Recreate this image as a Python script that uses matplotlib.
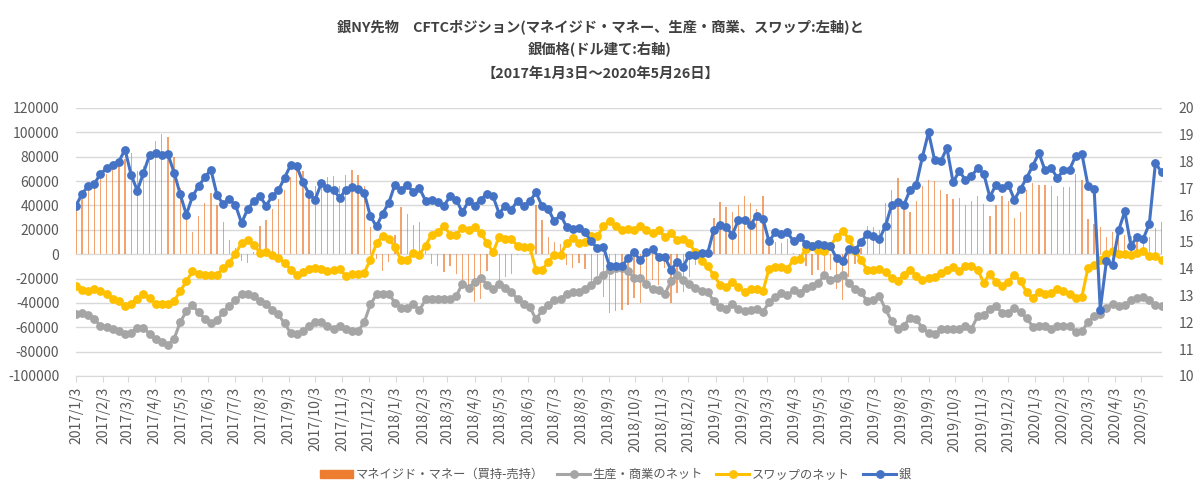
import matplotlib
matplotlib.use('Agg')
import matplotlib.pyplot as plt
import matplotlib.dates as mdates
from matplotlib.patches import Patch
from matplotlib.lines import Line2D
from matplotlib.ticker import FuncFormatter, MultipleLocator
import pandas as pd

plt.rcParams['font.family'] = ['Noto Sans CJK JP', 'DejaVu Sans']

# weekly CFTC report dates (Tuesdays)
dates = pd.date_range('2017-01-03', '2020-05-26', freq='7D')

# managed money net (long - short), contracts
managed_money = [
    40000, 45000, 52000, 56000, 62000, 66000, 71000, 75000, 78000, 83000,
    68000, 72000, 78000, 93000, 99000, 96000, 80000, 54000, 32000, 18000,
    31000, 42000, 50000, 40000, 26000, 12000, 5000, -6000, -7000, 2000,
    23500, 28000, 37000, 45000, 53000, 63000, 75000, 68000, 53000, 56000,
    61000, 63000, 64000, 56000, 65000, 69000, 65000, 56000, 22000, -4000,
    -14000, -6500, 16000, 39000, 33000, 24000, 26000, 3000, -7700, -10000,
    -15000, -10000, -16000, -28000, -30000, -39000, -37000, -14000, -2000, -21000,
    -19000, -16000, -1000, 500, 1000, 40000, 28000, 14000, 10000, 8000,
    -8500, -11000, -7000, -12000, -22000, -18000, -35000, -48000, -47000, -46000,
    -42000, -36000, -40000, -29000, -21000, -25000, -11000, -40000, -32000, -31000,
    -19000, -9000, 1000, 0, 30000, 43000, 39000, 35000, 40000, 48000,
    42000, 37000, 48000, 9000, 10000, 9000, 12500, 1000, -7000, -10000,
    -17500, -13000, -14000, -13000, -29000, -38000, -19000, -7700, 5000, 23500,
    22500, 19700, 42000, 52500, 62700, 44000, 34500, 44000, 56000, 61000,
    60000, 53000, 49000, 45000, 46000, 40000, 43500, 47600, 40800, 31700,
    40000, 48000, 44000, 30000, 35000, 53000, 58500, 57000, 57000, 56000,
    48000, 55000, 55000, 66000, 61000, 29000, 25000, 22500, 14000, 18000,
    20000, 16000, 15000, 12600, 12000, 14000, 21500, 26000,
]

# producer / merchant net
producer = [
    -49000, -48200, -50300, -53600, -58600, -59900, -61800, -63200, -65400, -64600,
    -60500, -60500, -65400, -70000, -72200, -74700, -69500, -55800, -46800, -42100,
    -47600, -53100, -56900, -54200, -47600, -42700, -38000, -33100, -32300, -34500,
    -38600, -40500, -46000, -49500, -56900, -64600, -65900, -63200, -59100, -55800,
    -55800, -59100, -61800, -58600, -61300, -63200, -63200, -55800, -41300, -33100,
    -32300, -32300, -39900, -44100, -44100, -41300, -46000, -37200, -36700, -37200,
    -36700, -36700, -34500, -24100, -27600, -23000, -19400, -24900, -29000, -24100,
    -27600, -31200, -36700, -40500, -43200, -53600, -46000, -42100, -37800, -36700,
    -33100, -31200, -31200, -29000, -24900, -20800, -16700, -12600, -11200, -11200,
    -14000, -19400, -19400, -24100, -29000, -29500, -33100, -22200, -17500, -20800,
    -24100, -27600, -30400, -31200, -38600, -43200, -44900, -40500, -44900, -46800,
    -46000, -45400, -47600, -39400, -35000, -31700, -33900, -29500, -31700, -27600,
    -26300, -23500, -17500, -20800, -19400, -16700, -23500, -28500, -31200, -38600,
    -37800, -34500, -45400, -55000, -61800, -58600, -52300, -53600, -60500, -64600,
    -65900, -61800, -61800, -61300, -61300, -59100, -61300, -50900, -50300, -44900,
    -42700, -48200, -48200, -44100, -47600, -52300, -59600, -59100, -59100, -61300,
    -59100, -59100, -58600, -64000, -63200, -55800, -50900, -49500, -44100, -40500,
    -42700, -42100, -37800, -35800, -35000, -37800, -42100, -42700,
]

# swap dealer net
swap = [
    -26300, -29500, -30400, -29000, -30400, -32600, -36700, -38600, -42700, -40500,
    -36700, -32600, -35800, -41000, -41000, -41300, -38300, -30400, -22200, -14200,
    -15900, -16700, -17500, -16700, -11500, -7100, 500, 8800, 11500, 7900,
    1100, 1600, -300, -3000, -7100, -12600, -17200, -14800, -12000, -11200,
    -12000, -14000, -12600, -12000, -18100, -15900, -15900, -15300, -4400, 8800,
    15300, 12600, 6000, -4900, -4900, 1100, -300, 7100, 16100, 18100,
    23000, 16100, 16100, 21600, 20200, 22400, 17500, 9300, 1600, 14200,
    12600, 12600, 6600, 6000, 6000, -13100, -12600, -6600, -300, -300,
    8800, 13400, 9300, 9900, 14800, 14800, 23000, 27100, 23000, 19700,
    20800, 19700, 23500, 20200, 17000, 20200, 14200, 17000, 12000, 12600,
    8800, 1600, -5700, -9900, -17500, -24900, -26800, -23000, -26800, -31200,
    -28500, -28500, -30400, -12000, -10400, -10400, -12000, -4400, -3800, 4400,
    6600, 3300, 2500, 6600, 14200, 18900, 12600, 2500, -4400, -13100,
    -13100, -12000, -14800, -19400, -22200, -16700, -12600, -18100, -20800, -19400,
    -18600, -15300, -13100, -10400, -14000, -9900, -9900, -12600, -23500, -15900,
    -23000, -26300, -23000, -16700, -22200, -31200, -35800, -31200, -32300, -31700,
    -28500, -30400, -32300, -35800, -35000, -11200, -8500, -4900, 500, 2500,
    500, 500, -300, 1100, 2500, -1600, -1600, -4400,
]

# silver price, USD/oz (right axis)
silver = [
    16.36, 16.79, 17.10, 17.18, 17.54, 17.75, 17.89, 18.00, 18.45, 17.50,
    16.92, 17.57, 18.25, 18.32, 18.25, 18.27, 17.59, 16.78, 16.02, 16.70,
    17.09, 17.41, 17.70, 16.75, 16.41, 16.60, 16.38, 15.71, 16.23, 16.52,
    16.70, 16.36, 16.70, 16.93, 17.39, 17.87, 17.82, 17.23, 16.80, 16.58,
    17.20, 17.01, 16.95, 16.64, 16.95, 17.05, 16.98, 16.83, 15.96, 15.58,
    16.06, 16.46, 17.14, 16.93, 17.14, 16.85, 17.01, 16.54, 16.55, 16.48,
    16.36, 16.70, 16.58, 16.11, 16.52, 16.36, 16.58, 16.80, 16.70, 16.06,
    16.36, 16.21, 16.54, 16.33, 16.52, 16.85, 16.33, 16.23, 15.77, 16.02,
    15.56, 15.49, 15.52, 15.36, 15.02, 14.78, 14.81, 14.09, 14.09, 14.09,
    14.40, 14.61, 14.32, 14.61, 14.73, 14.44, 14.44, 13.97, 14.24, 14.07,
    14.53, 14.53, 14.59, 14.59, 15.46, 15.65, 15.56, 15.27, 15.81, 15.81,
    15.65, 15.98, 15.86, 15.02, 15.36, 15.31, 15.36, 15.02, 15.19, 14.94,
    14.84, 14.94, 14.90, 14.84, 14.40, 14.28, 14.74, 14.71, 14.99, 15.31,
    15.21, 15.11, 15.61, 16.39, 16.48, 16.39, 16.95, 17.14, 18.17, 19.09,
    18.05, 18.01, 18.51, 17.23, 17.64, 17.33, 17.45, 17.76, 17.55, 16.68,
    17.14, 17.01, 17.14, 16.58, 16.98, 17.39, 17.85, 18.32, 17.67, 17.76,
    17.39, 17.67, 17.70, 18.22, 18.30, 17.10, 16.98, 12.48, 14.28, 14.15,
    15.44, 16.14, 14.86, 15.19, 15.11, 15.68, 17.95, 17.60,
]

labels = ['マネイジド・マネー（買持-売持）', '生産・商業のネット', 'スワップのネット', '銀']
title_lines = ['銀NY先物　CFTCポジション(マネイジド・マネー、生産・商業、スワップ:左軸)と',
               '銀価格(ドル建て:右軸)',
               '【2017年1月3日～2020年5月26日】']

c_bar = '#ED7D31'
c_prod = '#A5A5A5'
c_swap = '#FFC000'
c_silver = '#4472C4'
c_text = '#595959'

fig = plt.figure(figsize=(12, 4.97), dpi=100)
ax = fig.add_axes([0.0633, 0.2435, 0.9047, 0.5392])
ax2 = ax.twinx()

ax.bar(dates, managed_money, width=1.5, color=c_bar, alpha=0.7, zorder=2)
ax.plot(dates, producer, color=c_prod, lw=2.2, marker='o', ms=5.3, zorder=3)
ax.plot(dates, swap, color=c_swap, lw=2.2, marker='o', ms=5.3, zorder=4)
ax2.plot(dates, silver, color=c_silver, lw=2.2, marker='o', ms=5.3)

ax.set_ylim(-100000, 120000)
ax.yaxis.set_major_locator(MultipleLocator(20000))
ax.yaxis.set_major_formatter(FuncFormatter(lambda v, p: f'{int(v)}'))
ax2.set_ylim(10, 20)
ax2.yaxis.set_major_locator(MultipleLocator(1))

ax.set_xlim(dates[0], dates[-1])
ax.xaxis.set_major_locator(mdates.MonthLocator(bymonthday=3))
ax.xaxis.set_major_formatter(FuncFormatter(
    lambda v, p: (lambda d: f'{d.year}/{d.month}/{d.day}')(mdates.num2date(v))))
plt.setp(ax.get_xticklabels(), rotation=90)

ax.grid(axis='y', color='#D9D9D9', lw=1)
ax.set_axisbelow(True)
for a in (ax, ax2):
    for s in ('top', 'left', 'right'):
        a.spines[s].set_visible(False)
    a.spines['bottom'].set_color('#D9D9D9')
ax2.spines['bottom'].set_visible(False)

ax.tick_params(axis='y', length=0, labelsize=10, labelcolor=c_text, pad=12)
ax2.tick_params(axis='y', length=0, labelsize=10, labelcolor=c_text, pad=12)
ax.tick_params(axis='x', length=4, color='#D9D9D9', labelsize=10, labelcolor=c_text)

# title, three centred lines
for line, yy in zip(title_lines, [0.9457, 0.8994, 0.8511]):
    fig.text(0.5, yy, line, ha='center', va='center', fontsize=10.3,
             fontweight='bold', color='#404040')

handles = [
    Patch(color=c_bar),
    Line2D([], [], color=c_prod, lw=2.2, marker='o', ms=5.3),
    Line2D([], [], color=c_swap, lw=2.2, marker='o', ms=5.3),
    Line2D([], [], color=c_silver, lw=2.2, marker='o', ms=5.3),
]
fig.legend(handles, labels, loc='center', bbox_to_anchor=(0.513, 0.045), ncol=4,
           frameon=False, fontsize=8.8, labelcolor=c_text, handlelength=2.7,
           columnspacing=1.1, handletextpad=0.2)

fig.savefig('out.png', dpi=100)
